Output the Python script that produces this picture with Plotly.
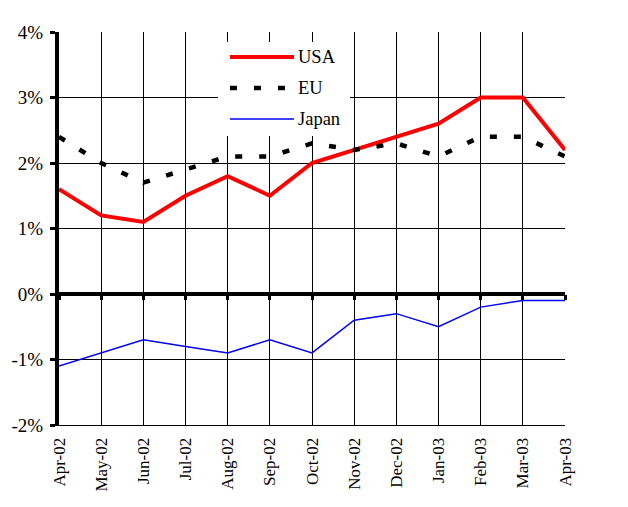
import plotly.graph_objects as go

months = ["Apr-02", "May-02", "Jun-02", "Jul-02", "Aug-02", "Sep-02", "Oct-02",
          "Nov-02", "Dec-02", "Jan-03", "Feb-03", "Mar-03", "Apr-03"]
usa = [1.6, 1.2, 1.1, 1.5, 1.8, 1.5, 2.0, 2.2, 2.4, 2.6, 3.0, 3.0, 2.2]
eu = [2.4, 2.0, 1.7, 1.9, 2.1, 2.1, 2.3, 2.2, 2.3, 2.1, 2.4, 2.4, 2.1]
japan = [-1.1, -0.9, -0.7, -0.8, -0.9, -0.7, -0.9, -0.4, -0.3, -0.5, -0.2, -0.1, -0.1]
yticks = [-2, -1, 0, 1, 2, 3, 4]
ytick_labels = ["-2%", "-1%", "0%", "1%", "2%", "3%", "4%"]
series_names = ["USA", "EU", "Japan"]

x = list(range(len(months)))
font = "Liberation Serif, Times New Roman, serif"
styles = [dict(color="#ff0000", width=4),
          dict(color="#000000", width=4.5, dash="7px,17px"),
          dict(color="#0000ff", width=1.5)]

fig = go.Figure()
for name, vals, st in zip(series_names, [usa, eu, japan], styles):
    fig.add_trace(go.Scatter(x=x, y=vals, name=name, mode="lines", line=st,
                             showlegend=False))
# helper trace for the tick marks on the zero line
fig.add_trace(go.Scatter(x=x, y=japan, xaxis="x2", mode="lines", showlegend=False,
                         hoverinfo="skip", line=dict(width=0), opacity=0))

# plot area in page pixels: x 59..565, y 32..425
def px(v):
    return (v - 59) / 506.0

def py(v):
    return (425 - v) / 393.0

# custom legend (white box over grid, sample lines, labels)
shapes = [dict(type="rect", xref="paper", yref="paper", layer="above",
               x0=px(218), x1=px(350), y0=py(136), y1=py(42),
               fillcolor="white", line=dict(width=0))]
annotations = []
legend_y = [57, 88, 119]
for name, st, ly in zip(series_names, styles, legend_y):
    shapes.append(dict(type="line", xref="paper", yref="paper", layer="above",
                       x0=px(230), x1=px(294), y0=py(ly), y1=py(ly),
                       line=dict(color=st["color"], width=st["width"],
                                 dash=st.get("dash", "solid"))))
    annotations.append(dict(text=name, xref="paper", yref="paper",
                            x=px(296), y=py(ly), xanchor="left", yanchor="middle",
                            showarrow=False, font=dict(size=18.5, family=font, color="black")))

# page body has an 8px margin; compensate
fig.update_layout(
    width=620, height=499,
    margin=dict(l=51, r=63, t=24, b=82, autoexpand=False),
    paper_bgcolor="white", plot_bgcolor="white",
    font=dict(family=font, color="black", size=17),
    xaxis=dict(range=[0, 12], tickmode="array", tickvals=x, ticktext=months,
               tickangle=-90, showgrid=True, gridcolor="black", gridwidth=1,
               showline=True, linecolor="black", linewidth=1, mirror=False,
               ticks="", ticklabelstandoff=5, zeroline=False,
               tickfont=dict(size=17, family=font), automargin=False),
    xaxis2=dict(range=[0, 12], overlaying="x", anchor="free", position=1/3,
                tickmode="array", tickvals=x, showticklabels=False,
                ticks="outside", ticklen=5, tickwidth=3, tickcolor="black",
                showgrid=False, showline=False, zeroline=False),
    yaxis=dict(range=[-2, 4], tickmode="array", tickvals=yticks, ticktext=ytick_labels,
               showgrid=True, gridcolor="black", gridwidth=1,
               zeroline=True, zerolinecolor="black", zerolinewidth=4,
               showline=True, linecolor="black", linewidth=4,
               ticks="outside", ticklen=5, tickwidth=3, tickcolor="black",
               ticklabelstandoff=3, automargin=False,
               tickfont=dict(size=19, family=font)),
    shapes=shapes,
    annotations=annotations,
    showlegend=False,
)

fig.write_html("out.html")
